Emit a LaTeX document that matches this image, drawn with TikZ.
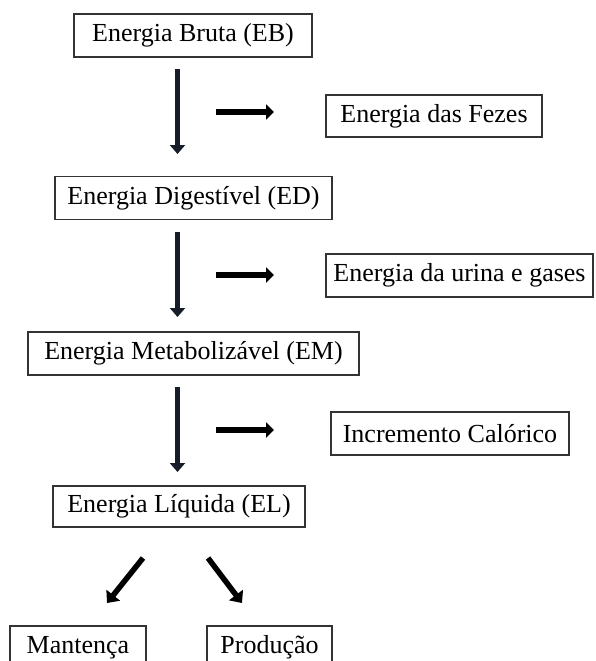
\documentclass[tikz,border=0pt]{standalone}
\usepackage{fontspec}
\setmainfont{Liberation Serif}
\usetikzlibrary{arrows.meta}
\definecolor{S}{RGB}{22,28,40}
\tikzstyle{caixa} = [draw=black!80, line width=1.5pt,
minimum height=43pt, inner sep=0pt,
font=\fontsize{26pt}{30pt}\selectfont]
\tikzstyle{desce} = [-{Triangle[width=15pt,length=9pt]}, line width=4.5pt, S]
\tikzstyle{sai} = [-{Triangle[width=15pt,length=8pt]}, line width=6.5pt]
\tikzstyle{ramo} = [-{Triangle[width=17pt,length=10pt]}, line width=5.5pt]

\begin{document}
\begin{tikzpicture}[x=1pt,y=-1pt]
        \useasboundingbox (0,0) rectangle (595,661);
        \clip (0,0) rectangle (595,661);
        % coluna principal
        \node[caixa, minimum width=238pt] (EB) at (193,35.5) {Energia Bruta (EB)};
        \node[caixa, minimum width=277pt] (ED) at (193.5,198) {Energia Digestível (ED)};
        \node[caixa, minimum width=331pt] (EM) at (193.5,353.5) {Energia Metabolizável (EM)};
        \node[caixa, minimum width=252pt, minimum height=41pt] (EL) at (179,506.5) {Energia Líquida (EL)};
        % perdas
        \node[caixa, minimum width=216pt, minimum height=42pt] (Fezes) at (434,116) {Energia das Fezes};
        \node[caixa, minimum width=267pt] (Urina) at (459.5,275.5) {Energia da urina e gases};
        \node[caixa, minimum width=238pt] (Calor) at (450,433.5) {Incremento Calórico};
        % destinos
        \node[caixa, minimum width=136pt] (Mant) at (78,647.5) {Mantença};
        \node[caixa, minimum width=125pt] (Prod) at (269.5,647.5) {Produção};
        % setas
        \foreach \ya/\yb/\yh [count=\i] in {69/154/112,232/317/275,387/472/430}
          {\coordinate (v\i a) at (177.5,\ya);
        \coordinate (v\i b) at (177.5,\yb);
        \coordinate (h\i a) at (216,\yh);
        \coordinate (h\i b) at (274,\yh);
        \draw[desce] (v\i a) -- (v\i b);
        \draw[sai] (h\i a) -- (h\i b);
        }
        \coordinate (rE) at (143,558);
        \coordinate (rEb) at (107,603);
        \coordinate (rD) at (208,558);
        \coordinate (rDb) at (242,603);
        \draw[ramo] (rE) -- (rEb);
        \draw[ramo] (rD) -- (rDb);
      \end{tikzpicture}
\end{document}
